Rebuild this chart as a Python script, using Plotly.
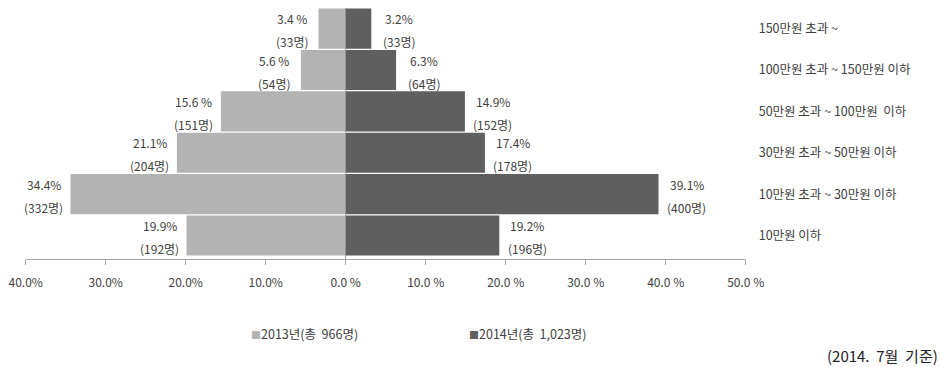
import plotly.graph_objects as go

# Data (bottom-to-top order)
categories = ["10만원 이하", "10만원 초과 ~ 30만원 이하", "30만원 초과 ~ 50만원 이하",
              "50만원 초과 ~ 100만원  이하", "100만원 초과 ~ 150만원 이하", "150만원 초과 ~"]
pct_2013 = [19.9, 34.4, 21.1, 15.6, 5.6, 3.4]
cnt_2013 = [192, 332, 204, 151, 54, 33]
pct_2013_text = ["19.9%", "34.4%", "21.1%", "15.6 %", "5.6 %", "3.4 %"]
pct_2014 = [19.2, 39.1, 17.4, 14.9, 6.3, 3.2]
cnt_2014 = [196, 400, 178, 152, 64, 33]
pct_2014_text = ["19.2%", "39.1%", "17.4%", "14.9%", "6.3%", "3.2%"]
series_names = ["2013년(총  966명)", "2014년(총  1,023명)"]
tick_vals = [-40, -30, -20, -10, 0, 10, 20, 30, 40, 50]
tick_text = ["40.0%", "30.0%", "20.0%", "10.0%", "0.0 %", "10.0 %", "20.0 %", "30.0 %", "40.0 %", "50.0 %"]
footnote = "(2014.  7월  기준)"

C2013 = "#b3b3b3"
C2014 = "#5f5f5f"
TXT = "#404040"
FONT = "Noto Sans CJK KR"

fig = go.Figure()
fig.add_trace(go.Bar(y=categories, x=[-v for v in pct_2013], orientation="h",
                     marker=dict(color=C2013, line=dict(width=0)),
                     name=series_names[0], showlegend=False))
fig.add_trace(go.Bar(y=categories, x=pct_2014, orientation="h",
                     marker=dict(color=C2014, line=dict(width=0)),
                     name=series_names[1], showlegend=False))

annotations = []
for i, cat in enumerate(categories):
    annotations.append(dict(x=-pct_2013[i], y=cat, text=pct_2013_text[i], xshift=-27, yshift=10,
                            showarrow=False, xanchor="center", font=dict(size=12, color=TXT)))
    annotations.append(dict(x=-pct_2013[i], y=cat, text=f"({cnt_2013[i]}명)", xshift=-27, yshift=-13,
                            showarrow=False, xanchor="center", font=dict(size=12, color=TXT)))
    annotations.append(dict(x=pct_2014[i], y=cat, text=pct_2014_text[i], xshift=28, yshift=10,
                            showarrow=False, xanchor="center", font=dict(size=12, color=TXT)))
    annotations.append(dict(x=pct_2014[i], y=cat, text=f"({cnt_2014[i]}명)", xshift=28, yshift=-13,
                            showarrow=False, xanchor="center", font=dict(size=12, color=TXT)))

# legend as text
for xpos, col, name in [(249 / 940, C2013, series_names[0]), (467 / 940, C2014, series_names[1])]:
    annotations.append(dict(xref="paper", yref="paper", x=xpos, y=1 - 333 / 367, xanchor="left",
                            yanchor="middle", showarrow=False,
                            text=f'<span style="color:{col};font-size:10px">■</span>{name}',
                            font=dict(size=12.5, color=TXT)))
annotations.append(dict(xref="paper", yref="paper", x=1.0, y=1 - 355 / 367, xanchor="right",
                        yanchor="middle", showarrow=False, text=footnote,
                        font=dict(size=15, color="#222222")))

fig.update_layout(
    width=940, height=367,
    margin=dict(l=0, r=0, t=0, b=0),
    paper_bgcolor="white", plot_bgcolor="white",
    barmode="relative", bargap=0.03,
    font=dict(family=FONT, size=12, color=TXT),
    xaxis=dict(domain=[25.7 / 940, 745.7 / 940], range=[-40, 50], tickvals=tick_vals, ticktext=tick_text,
               showgrid=False, showline=True, linecolor="#a6a6a6", linewidth=1,
               ticks="outside", ticklen=5, tickcolor="#a6a6a6",
               zeroline=True, zerolinecolor="#a6a6a6", zerolinewidth=1, layer="above traces",
               ticklabelstandoff=8, tickfont=dict(size=12, color=TXT), automargin=False),
    yaxis=dict(domain=[1 - 259 / 367, 1 - 8 / 367], side="right", showgrid=False, showline=False,
               ticks="", ticklabelstandoff=12, zeroline=False,
               tickfont=dict(size=12.5, color=TXT), automargin=False),
    annotations=annotations,
)
fig.write_html("out.html", config={"displayModeBar": False},
               post_script="document.body.style.margin='0';document.body.style.overflow='hidden';")
